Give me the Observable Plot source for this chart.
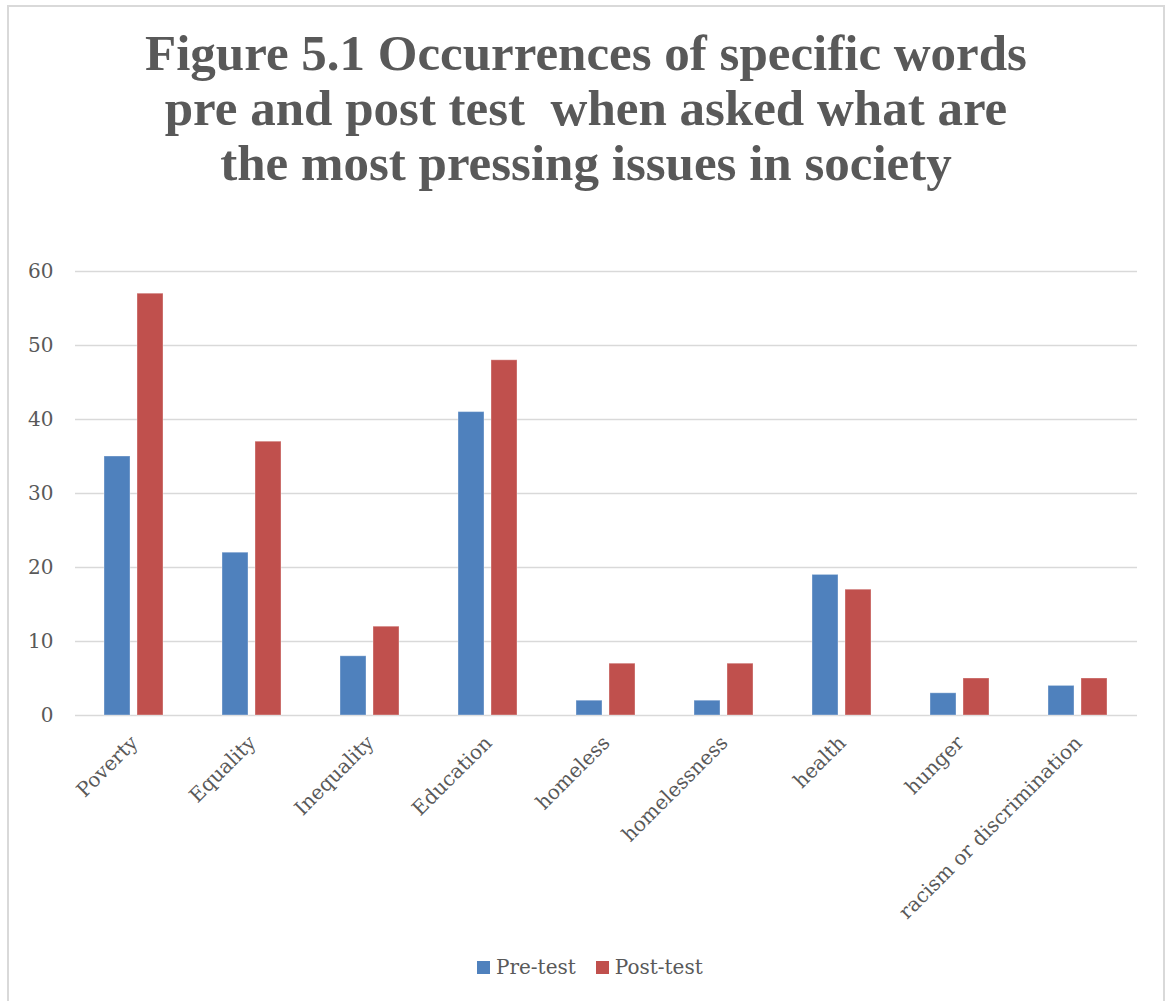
<!DOCTYPE html>
<html>
<head>
<meta charset="utf-8">
<script src="https://cdn.jsdelivr.net/npm/d3@7"></script>
<script src="https://cdn.jsdelivr.net/npm/@observablehq/plot@0.6"></script>
<style>
  html, body { margin: 0; padding: 0; background: #fff; }
  body { width: 1168px; height: 1001px; position: relative; overflow: hidden; }
  #frame {
    position: absolute; left: 7px; top: 5px; width: 1154px; height: 1010px;
    border: 2px solid #d9d9d9; box-sizing: content-box;
  }
  #title {
    position: absolute; left: 7px; width: 1158px; top: 26px;
    text-align: center; white-space: pre;
    font-family: "Liberation Serif", serif; font-weight: bold;
    font-size: 51px; line-height: 55px; color: #595959;
  }
  #chart { position: absolute; left: 0; top: 0; }
  #chart svg text { font-family: "DejaVu Serif", serif; font-size: 20px; fill: #595959; }
  #legend {
    position: absolute; left: 477px; top: 955px;
    display: flex; align-items: center;
    font-family: "DejaVu Serif", serif; font-size: 20px; color: #595959;
  }
  #legend .item { display: flex; align-items: center; margin-right: 20px; }
  #legend .swatch { width: 13px; height: 13px; margin-right: 6px; }
</style>
</head>
<body>
<div id="frame"></div>
<div id="title"></div>
<div id="chart"></div>
<div id="legend"></div>
<script>
// Words mentioned when asked about the most pressing issues in society
const titleLines = [
  "Figure 5.1 Occurrences of specific words",
  "pre and post test  when asked what are",
  "the most pressing issues in society"
];
const categories = ["Poverty", "Equality", "Inequality", "Education", "homeless",
  "homelessness", "health", "hunger", "racism or discrimination"];
const series = ["Pre-test", "Post-test"];
const preTest = [35, 22, 8, 41, 2, 2, 19, 3, 4];
const postTest = [57, 37, 12, 48, 7, 7, 17, 5, 5];
const seriesColors = ["#4f81bd", "#c0504d"];
const yTicks = [0, 10, 20, 30, 40, 50, 60];

document.getElementById("title").textContent = titleLines.join("\n");

// long-format rows: one per category and series
const rows = categories.flatMap((c, i) => [
  {category: c, series: series[0], value: preTest[i]},
  {category: c, series: series[1], value: postTest[i]}
]);

const chart = Plot.plot({
  width: 1168,
  height: 945,
  marginTop: 271,
  marginBottom: 230,
  marginLeft: 73,
  marginRight: 30,
  style: {fontFamily: "DejaVu Serif, serif", fontSize: "20px", color: "#595959", background: "transparent", overflow: "visible"},
  fx: {domain: categories, padding: 0, label: null, tickSize: 0, tickPadding: 24, tickRotate: -45},
  x: {domain: series, axis: null, paddingInner: 0.206, paddingOuter: 0.843},
  y: {domain: [0, 60], ticks: yTicks, tickSize: 0, tickPadding: 22, label: null},
  color: {domain: series, range: seriesColors},
  marks: [
    Plot.ruleY(yTicks, {stroke: "#d9d9d9", strokeWidth: 1.6}),
    Plot.barY(rows, {fx: "category", x: "series", y: "value", fill: "series",
      stroke: "#ffffff", strokeOpacity: 0.35, strokeWidth: 1})
  ]
});
document.getElementById("chart").appendChild(chart);

// legend below the plot
const legend = d3.select("#legend");
series.forEach((s, i) => {
  const item = legend.append("div").attr("class", "item");
  item.append("div").attr("class", "swatch").style("background", seriesColors[i]);
  item.append("span").text(s);
});
</script>
</body>
</html>
